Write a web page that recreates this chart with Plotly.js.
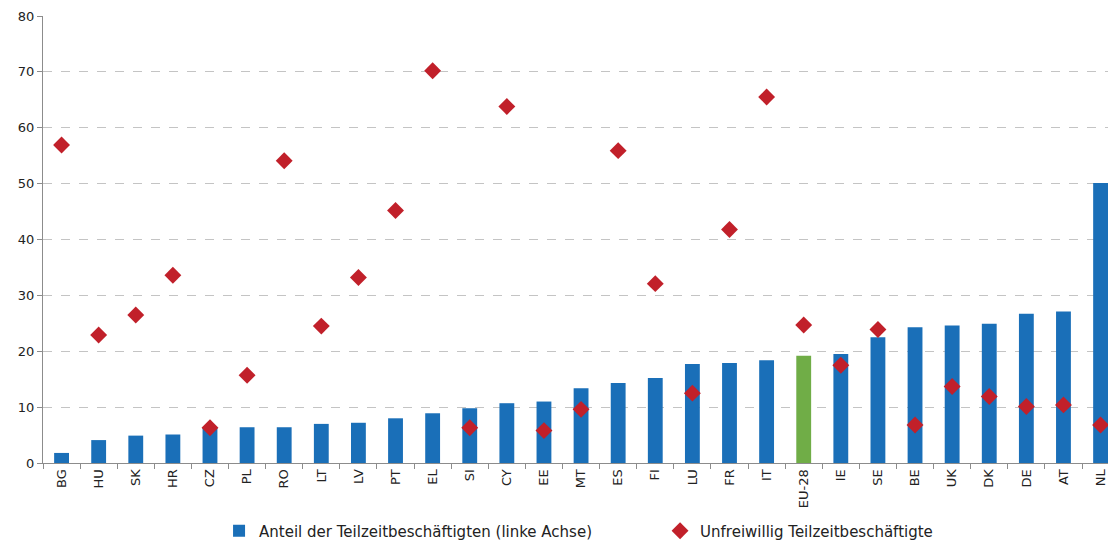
<!DOCTYPE html>
<html>
<head>
<meta charset="utf-8">
<script src="https://cdn.plot.ly/plotly-3.0.1.min.js"></script>
<style>html,body{margin:0;padding:0;background:#fff;overflow:hidden}#chart{width:1108px;height:543px}</style>
</head>
<body>
<div id="chart"></div>
<script>
const countries = ["BG","HU","SK","HR","CZ","PL","RO","LT","LV","PT","EL","SI","CY","EE","MT","ES","FI","LU","FR","IT","EU-28","IE","SE","BE","UK","DK","DE","AT","NL"];
const teilzeitAnteil = [1.8,4.1,4.9,5.1,6.3,6.4,6.4,7.0,7.2,8.0,8.9,9.8,10.7,11.0,13.4,14.3,15.2,17.7,17.9,18.4,19.2,19.5,22.5,24.3,24.6,24.9,26.7,27.1,50.1];
const unfreiwillig = [56.9,22.9,26.5,33.6,6.3,15.7,54.1,24.5,33.2,45.2,70.2,6.3,63.8,5.8,9.6,55.9,32.1,12.5,41.8,65.5,24.7,17.5,23.9,6.8,13.7,11.9,10.1,10.4,6.8];
const yTicks = [0,10,20,30,40,50,60,70,80];
const seriesNames = ["Anteil der Teilzeitbeschäftigten (linke Achse)","Unfreiwillig Teilzeitbeschäftigte"];

const barColors = countries.map(c => c === "EU-28" ? "#70ad47" : "#1a6fb8");
const font = "DejaVu Sans, sans-serif";

const traces = [
  {type:"bar", x:countries, y:teilzeitAnteil, name:seriesNames[0],
   marker:{color:barColors, line:{width:0}}, width:0.4},
  {type:"scatter", mode:"markers", x:countries, y:unfreiwillig, name:seriesNames[1],
   marker:{symbol:"diamond", size:13, color:"#c1202a"}, cliponaxis:false}
];

const layout = {
  width:1108, height:543,
  margin:{l:43, r:0, t:16, b:80},
  paper_bgcolor:"#fff", plot_bgcolor:"#fff",
  font:{family:font, size:13, color:"#222"},
  showlegend:true,
  legend:{orientation:"h", xref:"container", yref:"container", x:0.1977, xanchor:"left",
          y:0.022, yanchor:"middle",
          font:{size:15, color:"#222"}, itemwidth:30, tracegroupgap:0, traceorder:"normal",
          entrywidth:396},
  xaxis:{type:"category", range:[-0.5,28.2], tickson:"boundaries", ticks:"outside", ticklen:5,
         tickcolor:"#8c8c8c", showline:true, linecolor:"#8c8c8c", linewidth:1, automargin:false,
         showgrid:false, tickangle:-90, tickfont:{size:13, color:"#222"}, fixedrange:true},
  yaxis:{range:[0,80], tickvals:yTicks, ticktext:yTicks.map(String), ticks:"outside", ticklen:5,
         tickcolor:"#8c8c8c", showline:true, linecolor:"#8c8c8c", linewidth:1, automargin:false,
         showgrid:true, gridcolor:"#c4c4c4", griddash:"dash", gridwidth:1,
         zeroline:false, tickfont:{size:13, color:"#222"}, fixedrange:true}
};

Plotly.newPlot("chart", traces, layout, {displayModeBar:false, staticPlot:true});
</script>
</body>
</html>
